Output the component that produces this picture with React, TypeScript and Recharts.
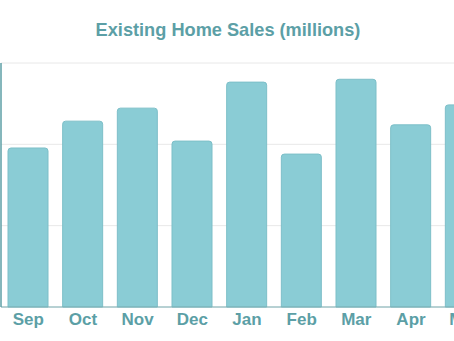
import { BarChart, Bar, XAxis, YAxis, CartesianGrid } from 'recharts'

const months = ['Sep', 'Oct', 'Nov', 'Dec', 'Jan', 'Feb', 'Mar', 'Apr', 'May']
const sales = [3.91, 4.57, 4.89, 4.08, 5.53, 3.76, 5.6, 4.48, 4.97]
const yTicks = [0, 2, 4, 6]

const data = months.map((month, i) => ({ month, sales: sales[i] }))

const teal = '#5c9fa6'
const font = '"Liberation Sans", Arial, sans-serif'

const App = () => {
    return (
        <div style={{ position: 'absolute', top: 0, left: 0, width: 454, height: 341, overflow: 'hidden', background: '#fff' }}>
            <div
                style={{
                    position: 'absolute',
                    top: 20,
                    left: 0,
                    width: 456,
                    textAlign: 'center',
                    fontFamily: font,
                    fontWeight: 'bold',
                    fontSize: 18.2,
                    color: teal,
                }}
            >
                Existing Home Sales (millions)
            </div>
            <div style={{ position: 'absolute', top: 0, left: -39.5 }}>
                <BarChart
                    width={532}
                    height={341}
                    data={data}
                    margin={{ top: 63, right: 0, bottom: 4, left: 0 }}
                    barSize={40}
                >
                    <CartesianGrid vertical={false} stroke='#e8e8e8' />
                    <XAxis
                        dataKey='month'
                        tickLine={false}
                        tickMargin={0}
                        stroke='#7aaeb3'
                        tick={{ fill: teal, fontSize: 17, fontWeight: 'bold', fontFamily: font }}
                    />
                    <YAxis
                        width={40}
                        domain={[0, 6]}
                        ticks={yTicks}
                        tickLine={false}
                        tick={() => <g />}
                        stroke='#5c9fa6'
                        strokeWidth={1.5}
                    />
                    <Bar
                        dataKey='sales'
                        fill='#8accd5'
                        stroke='#7dbfc8'
                        radius={[3, 3, 0, 0]}
                        isAnimationActive={false}
                    />
                </BarChart>
            </div>
        </div>
    )
}

export default App
